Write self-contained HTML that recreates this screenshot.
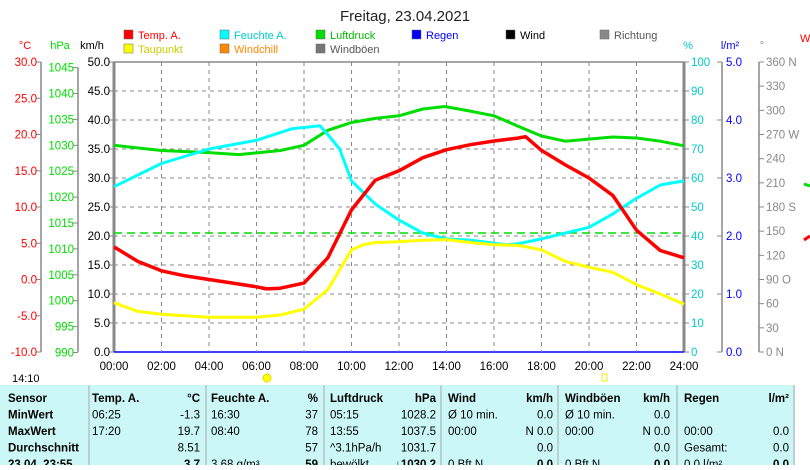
<!DOCTYPE html>
<html><head><meta charset="utf-8"><style>
body{margin:0;background:#fff;font-family:"Liberation Sans",sans-serif;}
svg text{font-family:"Liberation Sans",sans-serif;}
</style></head><body>
<svg id="c" width="810" height="465" viewBox="0 0 810 465" xmlns="http://www.w3.org/2000/svg">
<text x="405" y="21" font-size="15" text-anchor="middle" fill="#222">Freitag, 23.04.2021</text>
<g id="legend" font-size="11"></g>
<g id="axes" font-size="11.5"></g>
<g id="grid"></g>
<g id="series"></g>
<g id="table"></g>
</svg>
<script>
const hours=[0,1,2,3,4,5,6,6.42,7,8,9,10,11,12,13,14,15,16,17,17.33,18,19,20,21,22,23,24];
const tempVals=[4.5,2.5,1.2,0.5,0,-0.5,-1.0,-1.3,-1.2,-0.5,3,9.6,13.7,15,16.8,17.9,18.6,19.1,19.5,19.7,17.8,15.8,14,11.6,6.8,4,3];
const humHours=[0,2,4,6,7.5,8.67,9,9.5,10,11,12,13,14,15,16.5,17,18,19,20,21,22,23,24];
const humVals=[57,65,70,73,77,78,75,70,59,51,45.5,41,39,38.6,37,37.3,39,41,43,47.6,53,57.6,59];
const presHours=[0,2,4,5.25,7,8,9,10,11,12,13,13.92,15,16,17,18,19,20,21,22,23,24];
const presVals=[1030,1029,1028.6,1028.2,1029,1030,1032.9,1034.4,1035.2,1035.7,1037,1037.5,1036.6,1035.7,1033.7,1031.8,1030.8,1031.2,1031.6,1031.4,1030.8,1029.9];
const dewHours=[0,1,2,4,6,7,8,9,10,10.5,11,12,13,14,15,16,17,18,19,20,21,22,23,24];
const dewVals=[-3.2,-4.4,-4.8,-5.2,-5.2,-4.9,-4.1,-1.4,4.1,4.8,5.1,5.2,5.4,5.5,5.1,4.8,4.7,4.1,2.5,1.7,1,-0.7,-2,-3.4];
const xTicks=["00:00","02:00","04:00","06:00","08:00","10:00","12:00","14:00","16:00","18:00","20:00","22:00","24:00"];
const tempTicks=[30,25,20,15,10,5,0,-5,-10];
const presTicks=[1045,1040,1035,1030,1025,1020,1015,1010,1005,1000,995,990];
const kmhTicks=[50,45,40,35,30,25,20,15,10,5,0];
const humTicks=[100,90,80,70,60,50,40,30,20,10,0];
const rainTicks=[5,4,3,2,1,0];
const dirTicks=["360 N","330","300","270 W","240","210","180 S","150","120","90  O","60","30","0   N"];
const NS="http://www.w3.org/2000/svg";
const X0=114,X1=684,Y0=62,Y1=352;
const xs=h=>X0+h*(X1-X0)/24;
const yT=t=>Y1-(t+10)*(Y1-Y0)/40;
const yH=v=>Y1-v*(Y1-Y0)/100;
const yP=p=>352.5-(p-990)*5.18;
const yK=v=>Y1-v*(Y1-Y0)/50;
function mk(tag,at,parent,txt){const e=document.createElementNS(NS,tag);for(const k in at)e.setAttribute(k,at[k]);if(txt!=null)e.textContent=txt;document.getElementById(parent).appendChild(e);return e;}
const leg=[["Temp. A.","#f00",124,38],["Feuchte A.","#0ff",220,38],["Luftdruck","#0d0",316,38],["Regen","#00f",412,38],["Wind","#000",506,38],["Richtung","#888",600,38],["Taupunkt","#ff0",124,52],["Windchill","#f80",220,52],["Windböen","#777",316,52]];
leg.forEach(l=>{const r=mk('rect',{x:l[2],y:l[3]-8,width:9,height:9,fill:l[1],stroke:'#666','stroke-width':0.5},'legend');

const t=mk('text',{x:l[2]+14,y:l[3]+1,fill:l[1]=="#0ff"?"#0cc":(l[1]=="#ff0"?"#cc0":(l[1]=="#0d0"?"#0b0":(l[1]=="#888"||l[1]=="#777"?"#555":l[1])))},'legend',l[0]);
});
[["°C",25,"#f00"],["hPa",60,"#0d0"],["km/h",92,"#000"],["%",688,"#0cc"],["l/m²",730,"#00f"],["°",762,"#888"]].forEach(u=>{const t=mk('text',{x:u[1],y:49,'text-anchor':'middle',fill:u[2],'font-size':11},'axes',u[0]);});
for(let i=1;i<12;i++){const l=mk('line',{x1:xs(i*2),x2:xs(i*2),y1:Y0,y2:Y1,stroke:'#888','stroke-dasharray':'4,4'},'grid');}
for(let i=1;i<10;i++){const l=mk('line',{x1:X0,x2:X1,y1:yK(i*5),y2:yK(i*5),stroke:'#888','stroke-dasharray':'4,4'},'grid');}
function axis(x,y1,y2,w){const l=mk('line',{x1:x,x2:x,y1:y1,y2:y2,stroke:'#888','stroke-width':w},'axes');}
axis(41,Y0,Y1,1.5);axis(78,yP(1045),Y1,1.5);axis(X0,Y0,Y1,3);axis(X1,Y0,Y1,3);axis(722,Y0,Y1,1.5);axis(759,Y0,Y1,1.5);
mk('line',{x1:X0,x2:X1,y1:Y0,y2:Y0,stroke:'#888','stroke-width':1.5},'axes');
mk('line',{x1:X0,x2:X1,y1:Y1,y2:Y1,stroke:'#00f','stroke-width':1.5},'axes');
function tick(x,y,dir,label,col,anchor){mk('line',{x1:x,x2:x+dir*5,y1:y,y2:y,stroke:'#888'},'axes');const t=mk('text',{x:anchor=='end'?x-4:x+7,y:y+4,fill:col,'text-anchor':anchor},'axes',label);}
tempTicks.forEach(v=>tick(41,yT(v),-1,v.toFixed(1),'#f00','end'));
presTicks.forEach(v=>tick(78,yP(v),-1,String(v),'#0d0','end'));
kmhTicks.forEach(v=>tick(X0,yK(v),-1,v.toFixed(1),'#000','end'));
humTicks.forEach(v=>tick(X1,yH(v),1,String(v),'#0cc','start'));
rainTicks.forEach(v=>tick(722,yK(v*10),-1,'',"#00f",'end'));
rainTicks.forEach(v=>{const t=mk('text',{x:726,y:yK(v*10)+4,fill:'#00f'},'axes',v.toFixed(1));});
dirTicks.forEach((v,i)=>{const y=Y0+i*(Y1-Y0)/12;mk('line',{x1:759,x2:764,y1:y,y2:y,stroke:'#888'},'axes');const t=mk('text',{x:766,y:y+4,fill:'#888'},'axes',v);});
xTicks.forEach((v,i)=>{const t=mk('text',{x:xs(i*2),y:370,'text-anchor':'middle',fill:'#000'},'axes',v);});
function line(hh,vv,fy,col,w,name){const d=hh.map((h,i)=>(i?'L':'M')+xs(h).toFixed(1)+','+fy(vv[i]).toFixed(1)).join('');const p=mk('path',{d:d,fill:'none',stroke:col,'stroke-width':w,'stroke-linejoin':'round'},'series');}
mk('line',{x1:X0,x2:X1,y1:233,y2:233,stroke:'#0d0','stroke-dasharray':'8,5','stroke-width':1.5},'series');
line(presHours,presVals,yP,'#0d0',3,'pressure-line');
line(humHours,humVals,yH,'#0ff',3,'humidity-line');
line(dewHours,dewVals,yT,'#ff0',3,'dewpoint-line');
line(hours,tempVals,yT,'#f00',3.5,'temperature-line');
mk('text',{x:12,y:382,'font-size':11},'axes','14:10');
mk('circle',{cx:267,cy:378,r:4,fill:'#ff0',stroke:'#dd0'},'axes');
mk('rect',{x:602,y:374,width:5,height:7,fill:'none',stroke:'#ee0'},'axes');
mk('line',{x1:804,x2:810,y1:184,y2:186,stroke:'#0d0','stroke-width':3},'axes');
mk('line',{x1:804,x2:810,y1:240,y2:236,stroke:'#f00','stroke-width':3},'axes');
mk('text',{x:800,y:42,fill:'#f00','font-size':11},'axes','W');
mk('rect',{x:0,y:385,width:795,height:80,fill:'#ccf7f7'},'table');
[89,206,324,441,558,677,794].forEach(x=>mk('line',{x1:x,x2:x,y1:385,y2:465,stroke:'#aaa'},'table'));
const cols=[[8,"start"],[92,"start"],[200,"end"],[211,"start"],[318,"end"],[330,"start"],[436,"end"],[448,"start"],[553,"end"],[565,"start"],[670,"end"],[684,"start"],[789,"end"]];
const rows=[
["Sensor","Temp. A.","°C","Feuchte A.","%","Luftdruck","hPa","Wind","km/h","Windböen","km/h","Regen","l/m²"],
["MinWert"," 06:25","-1.3"," 16:30","37"," 05:15","1028.2","Ø 10 min.","0.0","Ø 10 min.","0.0","",""],
["MaxWert"," 17:20","19.7"," 08:40","78"," 13:55","1037.5","  00:00","N 0.0","  00:00","N 0.0","  00:00","0.0"],
["Durchschnitt","","8.51","","57","^3.1hPa/h","1031.7","","0.0","","0.0","Gesamt:","0.0"],
["23.04. 23:55","","3.7","3.68 g/m³","59","bewölkt","↓1030.2","0 Bft N","0.0","0 Bft N","0.0","0.0 l/m²","0.0"]];
rows.forEach((r,ri)=>r.forEach((v,ci)=>{if(!v)return;const bold=ri==0||ci==0||(ri==4&&ci%2==0);const t=mk('text',{x:cols[ci][0],y:402+ri*16.5,'text-anchor':cols[ci][1],'font-size':11.5,'font-weight':bold?'bold':'normal',fill:'#000','xml:space':'preserve'},'table',v);}));
</script>
</body></html>
